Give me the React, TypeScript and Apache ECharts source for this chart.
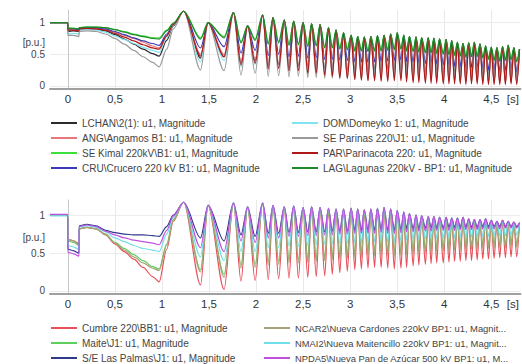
import React, { useEffect, useRef } from 'react';
import * as echarts from 'echarts';

// ---------- shared time grid (s) ----------
const phaseTimes = [-0.19, -0.002, 0, 0.06, 0.118, 0.12, 0.2, 0.3, 0.4, 0.5, 0.6, 0.7, 0.8, 0.9, 0.97, 1.05, 1.12];
const peakTimes = [1.23, 1.49, 1.76, 1.91, 2.07, 2.18, 2.30, 2.40, 2.50, 2.59, 2.68, 2.77, 2.85, 2.93, 3.01, 3.08, 3.15, 3.22, 3.29, 3.36, 3.43, 3.50, 3.57, 3.63, 3.70, 3.76, 3.83, 3.89, 3.95, 4.02, 4.08, 4.14, 4.20, 4.26, 4.32, 4.38, 4.44, 4.50, 4.56, 4.62, 4.68, 4.74, 4.80];
const troughTimes = [1.41, 1.66, 1.84, 1.99, 2.13, 2.24, 2.35, 2.45, 2.55, 2.64, 2.73, 2.81, 2.89, 2.97, 3.05, 3.12, 3.19, 3.26, 3.33, 3.40, 3.47, 3.54, 3.60, 3.67, 3.73, 3.80, 3.86, 3.92, 3.99, 4.05, 4.11, 4.17, 4.23, 4.29, 4.35, 4.41, 4.47, 4.53, 4.59, 4.65, 4.71, 4.77];

// ---------- axis labels ----------
const xTickValues = [0, 0.5, 1, 1.5, 2, 2.5, 3, 3.5, 4, 4.5];
const xUnitValue = 4.73;
const xUnitLabel = '[s]';
const yTickValues = [0, 0.5, 1];
const yUnitLabel = '[p.u.]';
const topYUnitValue = 0.69;
const botYUnitValue = 0.71;

// ---------- top chart ----------
const topNames = [
  'LCHAN\\2(1): u1, Magnitude',
  'ANG\\Angamos B1: u1, Magnitude',
  'SE Kimal 220kV\\B1: u1, Magnitude',
  'CRU\\Crucero 220 kV B1: u1, Magnitude',
  'DOM\\Domeyko 1: u1, Magnitude',
  'SE Parinas 220\\J1: u1, Magnitude',
  'PAR\\Parinacota 220: u1, Magnitude',
  'LAG\\Lagunas 220kV - BP1: u1, Magnitude',
];
const topColors = ['#2b2b2b', '#e8767a', '#3ce03c', '#3a3ab8', '#80e4ee', '#9a9a9a', '#b01818', '#1f8a2a'];

const topPeaks = [1.18, 1.0, 1.16, 0.95, 1.12, 1.08, 1.04, 1.02, 1.0, 0.98, 0.97, 0.92, 0.88, 0.84, 0.8, 0.78, 0.77, 0.78, 0.79, 0.8, 0.82, 0.84, 0.8, 0.78, 0.77, 0.76, 0.76, 0.75, 0.74, 0.73, 0.71, 0.69, 0.67, 0.68, 0.69, 0.66, 0.63, 0.61, 0.6, 0.62, 0.64, 0.6, 0.58];

const lchanPhase = [1.0, 1.0, 0.86, 0.87, 0.86, 0.9, 0.9, 0.9, 0.87, 0.81, 0.74, 0.66, 0.58, 0.51, 0.47, 0.72, 0.95];
const angPhase = [1.0, 1.0, 0.9, 0.9, 0.89, 0.91, 0.92, 0.91, 0.89, 0.85, 0.8, 0.75, 0.69, 0.63, 0.6, 0.8, 0.97];
const kimalPhase = [1.0, 1.0, 0.92, 0.91, 0.9, 0.92, 0.93, 0.93, 0.92, 0.89, 0.86, 0.82, 0.79, 0.76, 0.76, 0.88, 0.99];
const cruPhase = [1.0, 1.0, 0.9, 0.9, 0.89, 0.91, 0.92, 0.92, 0.9, 0.86, 0.81, 0.76, 0.71, 0.67, 0.64, 0.82, 0.97];
const domPhase = [1.0, 1.0, 0.82, 0.83, 0.82, 0.88, 0.89, 0.88, 0.85, 0.79, 0.73, 0.67, 0.61, 0.56, 0.53, 0.76, 0.96];
const parinasPhase = [1.0, 1.0, 0.8, 0.8, 0.78, 0.86, 0.87, 0.86, 0.82, 0.75, 0.66, 0.56, 0.46, 0.37, 0.3, 0.58, 0.9];
const parPhase = [1.0, 1.0, 0.88, 0.88, 0.87, 0.9, 0.91, 0.9, 0.88, 0.83, 0.77, 0.71, 0.65, 0.6, 0.58, 0.79, 0.97];
const lagPhase = [1.0, 1.0, 0.91, 0.91, 0.9, 0.92, 0.93, 0.93, 0.92, 0.89, 0.85, 0.81, 0.78, 0.75, 0.74, 0.87, 0.99];

const lchanTroughs = [0.44, 0.46, 0.36, 0.4, 0.32, 0.34, 0.3, 0.31, 0.28, 0.28, 0.26, 0.26, 0.25, 0.24, 0.23, 0.23, 0.22, 0.23, 0.23, 0.24, 0.25, 0.25, 0.23, 0.22, 0.21, 0.2, 0.2, 0.19, 0.18, 0.18, 0.17, 0.16, 0.15, 0.15, 0.15, 0.14, 0.13, 0.12, 0.12, 0.12, 0.13, 0.11];
const angTroughs = [0.5, 0.5, 0.38, 0.42, 0.33, 0.34, 0.3, 0.3, 0.27, 0.27, 0.24, 0.23, 0.21, 0.2, 0.18, 0.17, 0.16, 0.16, 0.15, 0.16, 0.17, 0.17, 0.15, 0.14, 0.13, 0.12, 0.12, 0.11, 0.1, 0.1, 0.09, 0.09, 0.08, 0.08, 0.08, 0.07, 0.07, 0.06, 0.06, 0.07, 0.07, 0.06];
const kimalTroughs = [0.76, 0.78, 0.7, 0.74, 0.68, 0.7, 0.66, 0.67, 0.64, 0.65, 0.62, 0.62, 0.6, 0.59, 0.57, 0.57, 0.56, 0.57, 0.57, 0.58, 0.59, 0.6, 0.57, 0.56, 0.55, 0.54, 0.54, 0.53, 0.52, 0.51, 0.5, 0.49, 0.47, 0.48, 0.48, 0.46, 0.44, 0.42, 0.41, 0.42, 0.43, 0.4];
const cruTroughs = [0.6, 0.62, 0.52, 0.56, 0.48, 0.5, 0.46, 0.47, 0.44, 0.45, 0.42, 0.42, 0.41, 0.4, 0.38, 0.38, 0.37, 0.38, 0.38, 0.39, 0.4, 0.41, 0.38, 0.37, 0.36, 0.35, 0.35, 0.34, 0.33, 0.32, 0.31, 0.3, 0.28, 0.29, 0.29, 0.27, 0.25, 0.24, 0.23, 0.24, 0.25, 0.22];
const domTroughs = [0.38, 0.4, 0.3, 0.34, 0.26, 0.28, 0.24, 0.25, 0.22, 0.22, 0.2, 0.2, 0.19, 0.18, 0.17, 0.17, 0.16, 0.17, 0.17, 0.17, 0.18, 0.18, 0.16, 0.15, 0.15, 0.14, 0.14, 0.13, 0.12, 0.12, 0.11, 0.11, 0.1, 0.1, 0.1, 0.09, 0.08, 0.08, 0.07, 0.08, 0.08, 0.07];
const parinasTroughs = [0.25, 0.24, 0.17, 0.2, 0.15, 0.16, 0.14, 0.15, 0.13, 0.13, 0.12, 0.12, 0.11, 0.11, 0.1, 0.1, 0.09, 0.1, 0.1, 0.1, 0.11, 0.11, 0.1, 0.09, 0.09, 0.08, 0.08, 0.08, 0.07, 0.07, 0.07, 0.06, 0.06, 0.06, 0.06, 0.06, 0.05, 0.05, 0.05, 0.05, 0.06, 0.05];
const parTroughs = [0.47, 0.46, 0.33, 0.36, 0.27, 0.28, 0.24, 0.24, 0.2, 0.2, 0.17, 0.15, 0.13, 0.12, 0.1, 0.09, 0.08, 0.08, 0.07, 0.07, 0.08, 0.08, 0.06, 0.05, 0.05, 0.04, 0.04, 0.04, 0.03, 0.03, 0.03, 0.03, 0.02, 0.03, 0.03, 0.02, 0.02, 0.02, 0.02, 0.02, 0.03, 0.02];
const lagTroughs = [0.74, 0.76, 0.68, 0.72, 0.66, 0.68, 0.64, 0.65, 0.62, 0.63, 0.6, 0.6, 0.58, 0.57, 0.55, 0.55, 0.54, 0.55, 0.55, 0.56, 0.57, 0.58, 0.55, 0.54, 0.53, 0.52, 0.52, 0.51, 0.5, 0.49, 0.48, 0.47, 0.45, 0.46, 0.46, 0.44, 0.42, 0.4, 0.39, 0.4, 0.41, 0.38];

// ---------- bottom chart ----------
const botNames = [
  'Cumbre 220\\BB1: u1, Magnitude',
  'Maite\\J1: u1, Magnitude',
  'S/E Las Palmas\\J1: u1, Magnitude',
  'NCAR2\\Nueva Cardones 220kV BP1: u1, Magnit...',
  'NMAI2\\Nueva Maitencillo 220kV BP1: u1, Magnit...',
  'NPDA5\\Nueva Pan de Azúcar 500 kV BP1: u1, M...',
];
const botColors = ['#e8505a', '#5ccf5c', '#2e3a8c', '#a8a27a', '#6fe0ea', '#c050e0'];

const botPeaks = [1.17, 1.13, 1.16, 1.11, 1.16, 1.13, 1.11, 1.12, 1.1, 1.11, 1.1, 1.09, 1.08, 1.08, 1.09, 1.08, 1.07, 1.08, 1.09, 1.1, 1.08, 1.06, 1.04, 1.02, 1.0, 0.99, 0.98, 0.98, 0.97, 0.97, 0.96, 0.96, 0.97, 0.95, 0.94, 0.94, 0.95, 0.93, 0.92, 0.93, 0.92, 0.91, 0.9];

const cumbrePhase = [1.0, 1.0, 0.68, 0.66, 0.62, 0.82, 0.84, 0.82, 0.74, 0.62, 0.52, 0.42, 0.31, 0.19, 0.12, 0.55, 0.92];
const maitePhase = [1.0, 1.0, 0.66, 0.64, 0.6, 0.82, 0.84, 0.82, 0.75, 0.64, 0.56, 0.48, 0.4, 0.32, 0.29, 0.62, 0.94];
const palmasPhase = [1.0, 1.0, 0.55, 0.53, 0.5, 0.86, 0.88, 0.86, 0.8, 0.77, 0.75, 0.74, 0.74, 0.73, 0.72, 0.85, 1.0];
const ncarPhase = [1.0, 1.0, 0.68, 0.66, 0.63, 0.82, 0.84, 0.82, 0.75, 0.63, 0.54, 0.45, 0.37, 0.3, 0.27, 0.6, 0.94];
const nmaiPhase = [0.99, 0.99, 0.6, 0.58, 0.55, 0.84, 0.86, 0.84, 0.78, 0.7, 0.65, 0.6, 0.56, 0.54, 0.52, 0.75, 0.97];
const npdaPhase = [1.01, 1.01, 0.51, 0.49, 0.46, 0.85, 0.87, 0.85, 0.79, 0.74, 0.7, 0.67, 0.65, 0.63, 0.61, 0.8, 0.99];

const cumbreTroughs = [0.08, 0.02, 0.13, 0.14, 0.15, 0.16, 0.17, 0.17, 0.18, 0.19, 0.2, 0.22, 0.24, 0.26, 0.28, 0.29, 0.3, 0.31, 0.31, 0.3, 0.29, 0.3, 0.31, 0.33, 0.34, 0.35, 0.36, 0.37, 0.37, 0.38, 0.39, 0.39, 0.4, 0.4, 0.41, 0.42, 0.42, 0.43, 0.44, 0.44, 0.45, 0.45];
const maiteTroughs = [0.28, 0.22, 0.34, 0.35, 0.38, 0.39, 0.41, 0.41, 0.42, 0.43, 0.44, 0.45, 0.46, 0.47, 0.48, 0.49, 0.5, 0.5, 0.51, 0.5, 0.5, 0.51, 0.52, 0.53, 0.54, 0.55, 0.55, 0.56, 0.57, 0.57, 0.58, 0.58, 0.58, 0.59, 0.59, 0.6, 0.6, 0.6, 0.61, 0.61, 0.62, 0.62];
const palmasTroughs = [0.7, 0.66, 0.74, 0.72, 0.76, 0.76, 0.77, 0.77, 0.78, 0.78, 0.78, 0.79, 0.79, 0.79, 0.8, 0.8, 0.8, 0.8, 0.81, 0.8, 0.8, 0.81, 0.82, 0.82, 0.82, 0.83, 0.83, 0.83, 0.83, 0.84, 0.84, 0.84, 0.84, 0.84, 0.84, 0.85, 0.85, 0.85, 0.85, 0.85, 0.85, 0.85];
const ncarTroughs = [0.25, 0.18, 0.3, 0.31, 0.34, 0.35, 0.37, 0.37, 0.38, 0.39, 0.4, 0.41, 0.42, 0.43, 0.44, 0.45, 0.46, 0.46, 0.47, 0.46, 0.46, 0.47, 0.48, 0.49, 0.5, 0.51, 0.51, 0.52, 0.53, 0.53, 0.54, 0.54, 0.54, 0.55, 0.55, 0.56, 0.56, 0.56, 0.57, 0.57, 0.58, 0.58];
const nmaiTroughs = [0.45, 0.4, 0.52, 0.52, 0.57, 0.57, 0.59, 0.59, 0.6, 0.61, 0.62, 0.62, 0.63, 0.63, 0.64, 0.64, 0.65, 0.65, 0.66, 0.65, 0.65, 0.66, 0.67, 0.68, 0.68, 0.69, 0.69, 0.69, 0.7, 0.7, 0.7, 0.71, 0.71, 0.71, 0.72, 0.72, 0.72, 0.73, 0.73, 0.73, 0.74, 0.74];
const npdaTroughs = [0.57, 0.52, 0.66, 0.64, 0.7, 0.7, 0.72, 0.72, 0.73, 0.73, 0.74, 0.74, 0.75, 0.75, 0.76, 0.76, 0.76, 0.76, 0.77, 0.76, 0.76, 0.77, 0.78, 0.78, 0.79, 0.79, 0.79, 0.8, 0.8, 0.8, 0.8, 0.81, 0.81, 0.81, 0.81, 0.82, 0.82, 0.82, 0.82, 0.83, 0.83, 0.83];

const topPhases = [lchanPhase, angPhase, kimalPhase, cruPhase, domPhase, parinasPhase, parPhase, lagPhase];
const topTroughs = [lchanTroughs, angTroughs, kimalTroughs, cruTroughs, domTroughs, parinasTroughs, parTroughs, lagTroughs];
const botPhases = [cumbrePhase, maitePhase, palmasPhase, ncarPhase, nmaiPhase, npdaPhase];
const botTroughs = [cumbreTroughs, maiteTroughs, palmasTroughs, ncarTroughs, nmaiTroughs, npdaTroughs];

function buildData(phase: number[], peaks: number[], troughs: number[]) {
  const pts: number[][] = phaseTimes.map((t, i) => [t, phase[i]]);
  peakTimes.forEach((t, i) => {
    pts.push([t, peaks[i]]);
    if (i < troughTimes.length) pts.push([troughTimes[i], troughs[i]]);
  });
  return pts;
}

const FONT = 'Liberation Sans, Arial, sans-serif';

function xAxisDef(gridIndex: number) {
  return {
    type: 'value',
    gridIndex,
    min: -0.19,
    max: 4.81,
    axisLine: { show: true, onZero: false, lineStyle: { color: '#a0a0a0', width: 2 } },
    axisTick: { show: false, customValues: xTickValues },
    splitLine: { show: true, lineStyle: { color: '#e8e8e8', width: 1 } },
    axisLabel: {
      customValues: [...xTickValues, xUnitValue],
      formatter: (v: number) => (v === xUnitValue ? xUnitLabel : String(v).replace('.', ',')),
      color: '#333',
      fontSize: 11.5,
      fontFamily: FONT,
      margin: 4,
    },
  };
}

function yAxisDef(gridIndex: number, min: number, unitValue: number) {
  return {
    type: 'value',
    gridIndex,
    min,
    max: 1.2,
    axisLine: { show: true, lineStyle: { color: '#c8c8c8', width: 1 } },
    axisTick: { show: false, customValues: yTickValues },
    splitLine: { show: true, lineStyle: { color: '#ececec', width: 1 } },
    axisLabel: {
      customValues: [...yTickValues, unitValue],
      formatter: (v: number) => (v === unitValue ? yUnitLabel : String(v)),
      color: '#444',
      fontSize: 10,
      fontFamily: FONT,
      margin: 5,
    },
  };
}

function legendDef(left: number, top: number, data: string[], fontSize: number) {
  return {
    orient: 'vertical',
    left,
    top,
    icon: 'rect',
    itemWidth: 26,
    itemHeight: 2,
    itemGap: 3,
    selectedMode: false,
    padding: 0,
    textStyle: { fontSize, lineHeight: 12, color: '#444', fontFamily: FONT },
    data,
  };
}

export default function App() {
  const ref = useRef<HTMLDivElement>(null);
  useEffect(() => {
    if (!ref.current) return;
    const chart = echarts.init(ref.current, null, { renderer: 'svg' });
    const series: any[] = [];
    topNames.forEach((name, i) => {
      series.push({
        type: 'line',
        name,
        xAxisIndex: 0,
        yAxisIndex: 0,
        symbol: 'none',
        smooth: 0.3,
        smoothMonotone: 'x',
        color: topColors[i],
        lineStyle: { width: 1.2, color: topColors[i] },
        data: buildData(topPhases[i], topPeaks, topTroughs[i]),
      });
    });
    botNames.forEach((name, i) => {
      series.push({
        type: 'line',
        name,
        xAxisIndex: 1,
        yAxisIndex: 1,
        symbol: 'none',
        smooth: 0.3,
        smoothMonotone: 'x',
        color: botColors[i],
        lineStyle: { width: 1.2, color: botColors[i] },
        data: buildData(botPhases[i], botPeaks, botTroughs[i]),
      });
    });
    chart.setOption({
      animation: false,
      backgroundColor: '#ffffff',
      grid: [
        { left: 50, top: 10, width: 472, height: 79 },
        { left: 50, top: 200, width: 472, height: 94 },
      ],
      xAxis: [xAxisDef(0), xAxisDef(1)],
      yAxis: [yAxisDef(0, -0.05, topYUnitValue), yAxisDef(1, -0.04, botYUnitValue)],
      legend: [
        legendDef(51, 117, topNames.slice(0, 4), 10),
        legendDef(292, 117, topNames.slice(4), 10),
        legendDef(51, 322, botNames.slice(0, 3), 10),
        legendDef(264, 322, botNames.slice(3), 9.4),
      ],
      series,
    });
    return () => chart.dispose();
  }, []);
  return (
    <div
      ref={ref}
      style={{ position: 'absolute', left: 0, top: 0, width: 522, height: 364 }}
    />
  );
}
